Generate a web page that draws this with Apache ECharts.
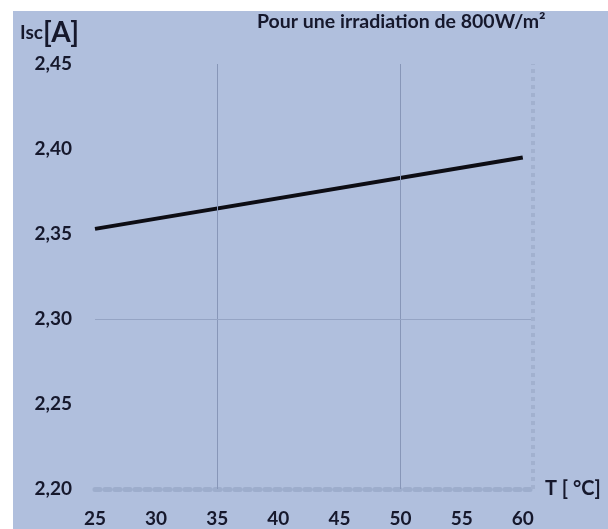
<!DOCTYPE html>
<html>
<head>
<meta charset="utf-8">
<script src="https://cdn.jsdelivr.net/npm/echarts@6/dist/echarts.min.js"></script>
<style>
html,body{margin:0;padding:0;background:#fff;}
#chart{width:608px;height:529px;}
</style>
</head>
<body>
<div id="chart"></div>
<script>
const temperatures = [25, 60];
const iscValues = [2.353, 2.395];
const xTicks = [25, 30, 35, 40, 45, 50, 55, 60];
const yTicks = [2.20, 2.25, 2.30, 2.35, 2.40, 2.45];
const gridX = [35, 50];
const gridY = [2.30];
const rightEdge = [60.8];

const chart = echarts.init(document.getElementById('chart'), null, {renderer: 'canvas'});
const font = 'Lato, "Open Sans", sans-serif';
const txt = '#16182c';

chart.setOption({
  backgroundColor: '#ffffff',
  animation: false,
  graphic: [{
    type: 'rect', z: -10, silent: true,
    shape: {x: 13, y: 11, width: 595, height: 518},
    style: {fill: '#b0bfdd'}
  }],
  title: [{
    text: 'Pour une irradiation de 800W/m²',
    left: 252, top: 7,
    textStyle: {fontFamily: font, fontSize: 19.5, fontWeight: 'bold', color: txt}
  }, {
    text: '{a|Isc}{b|[A]}',
    left: 15, top: 14,
    textStyle: {
      rich: {
        a: {fontFamily: font, fontSize: 19, fontWeight: 'bold', color: txt},
        b: {fontFamily: font, fontSize: 28, fontWeight: 'bold', color: txt}
      }
    }
  }],
  grid: {left: 95, right: 73, top: 64, bottom: 40, containLabel: false},
  xAxis: {
    type: 'value', min: 25, max: 61, interval: 5,
    name: 'T [ °C]', nameLocation: 'end', nameGap: 10,
    nameTextStyle: {fontFamily: font, fontSize: 20, fontWeight: 'bold', color: txt, verticalAlign: 'middle', padding: [0,0,8,0]},
    axisLine: {show: true, lineStyle: {color: '#9dadcc', width: 5, type: 'dotted'}},
    axisTick: {show: false},
    splitLine: {show: false},
    axisLabel: {
      margin: 20, showMaxLabel: false,
      fontFamily: font, fontSize: 19, fontWeight: 'bold', color: txt,
      formatter: v => xTicks.includes(v) ? String(v) : ''
    }
  },
  yAxis: {
    type: 'value', min: 2.20, max: 2.45, interval: 0.05,
    axisLine: {show: false},
    axisTick: {show: false},
    splitLine: {show: false},
    axisLabel: {
      margin: 23,
      fontFamily: font, fontSize: 19, fontWeight: 'bold', color: txt,
      formatter: v => v.toFixed(2).replace('.', ',')
    }
  },
  series: [{
    type: 'line',
    data: temperatures.map((t, i) => [t, iscValues[i]]),
    symbol: 'none',
    lineStyle: {color: '#0d0d14', width: 4},
    markLine: {
      silent: true, symbol: 'none', label: {show: false},
      data: [
        ...gridX.map(v => ({xAxis: v, lineStyle: {color: '#8796b8', width: 1, type: 'solid'}})),
        ...gridY.map(v => ({yAxis: v, lineStyle: {color: '#95a4c4', width: 1, type: 'solid'}})),
        ...rightEdge.map(v => ({xAxis: v, lineStyle: {color: '#a2b1cf', width: 4, type: 'dotted'}}))
      ]
    }
  }]
});
</script>
</body>
</html>
